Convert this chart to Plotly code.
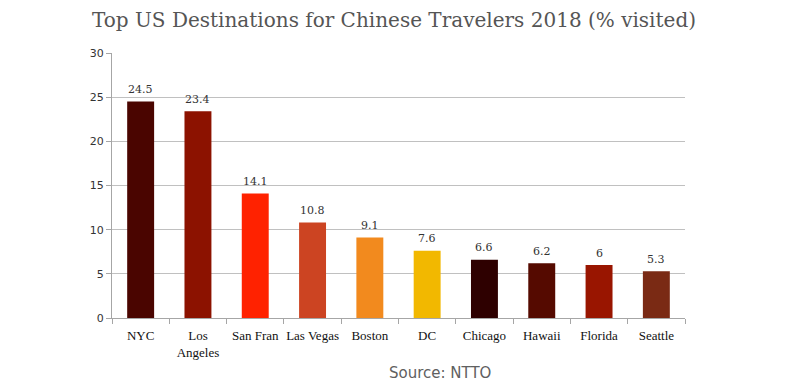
import plotly.graph_objects as go

categories = ["NYC", "Los<br>Angeles", "San Fran", "Las Vegas", "Boston", "DC", "Chicago", "Hawaii", "Florida", "Seattle"]
values = [24.5, 23.4, 14.1, 10.8, 9.1, 7.6, 6.6, 6.2, 6, 5.3]
colors = ["#4a0500", "#8c1200", "#ff2200", "#cc4422", "#f28a1e", "#f2b800", "#2e0000", "#550a00", "#991500", "#7a2a14"]
y_ticks = [0, 5, 10, 15, 20, 25, 30]

fig = go.Figure(go.Bar(
    x=categories, y=values,
    marker=dict(color=colors, line=dict(width=0)),
    cliponaxis=False,
))

annotations = [
    dict(x=c, y=v, text=f"{v:g}", showarrow=False, yshift=12, yanchor="middle",
         font=dict(family="DejaVu Serif", size=11, color="#333333"))
    for c, v in zip(categories, values)
]
annotations.append(dict(text="Source: NTTO", xref="paper", yref="paper",
                        x=(440 - 112) / 573, y=-(373 - 318) / 265,
                        xanchor="center", yanchor="middle", showarrow=False,
                        font=dict(family="DejaVu Sans", size=15, color="#606060")))

fig.update_layout(
    width=800, height=384,
    margin=dict(l=104, r=123, t=45, b=74),
    paper_bgcolor="white", plot_bgcolor="white",
    bargap=0.53,
    showlegend=False,
    title=dict(text="Top US Destinations for Chinese Travelers 2018 (% visited)",
               x=0.4825, xanchor="center", y=0.969, yanchor="middle",
               font=dict(family="DejaVu Serif", size=20, color="#555555")),
    annotations=annotations,
)

fig.update_xaxes(
    tickfont=dict(family="Liberation Serif", size=13, color="#111111"),
    tickangle=0, automargin=False, ticklabelstandoff=5,
    showline=True, linecolor="#a6a6a6", linewidth=1,
    ticks="outside", tickson="boundaries", ticklen=5, tickcolor="#a6a6a6",
    showgrid=False,
)
fig.update_yaxes(
    range=[0, 30], tickvals=y_ticks, automargin=False,
    tickfont=dict(family="DejaVu Sans", size=11, color="#333333"),
    showgrid=True, gridcolor="#c0c0c0", gridwidth=1,
    showline=True, linecolor="#a6a6a6", linewidth=1,
    ticks="outside", ticklen=5, tickcolor="#a6a6a6",
    zeroline=False,
)

fig.write_html("out.html")
